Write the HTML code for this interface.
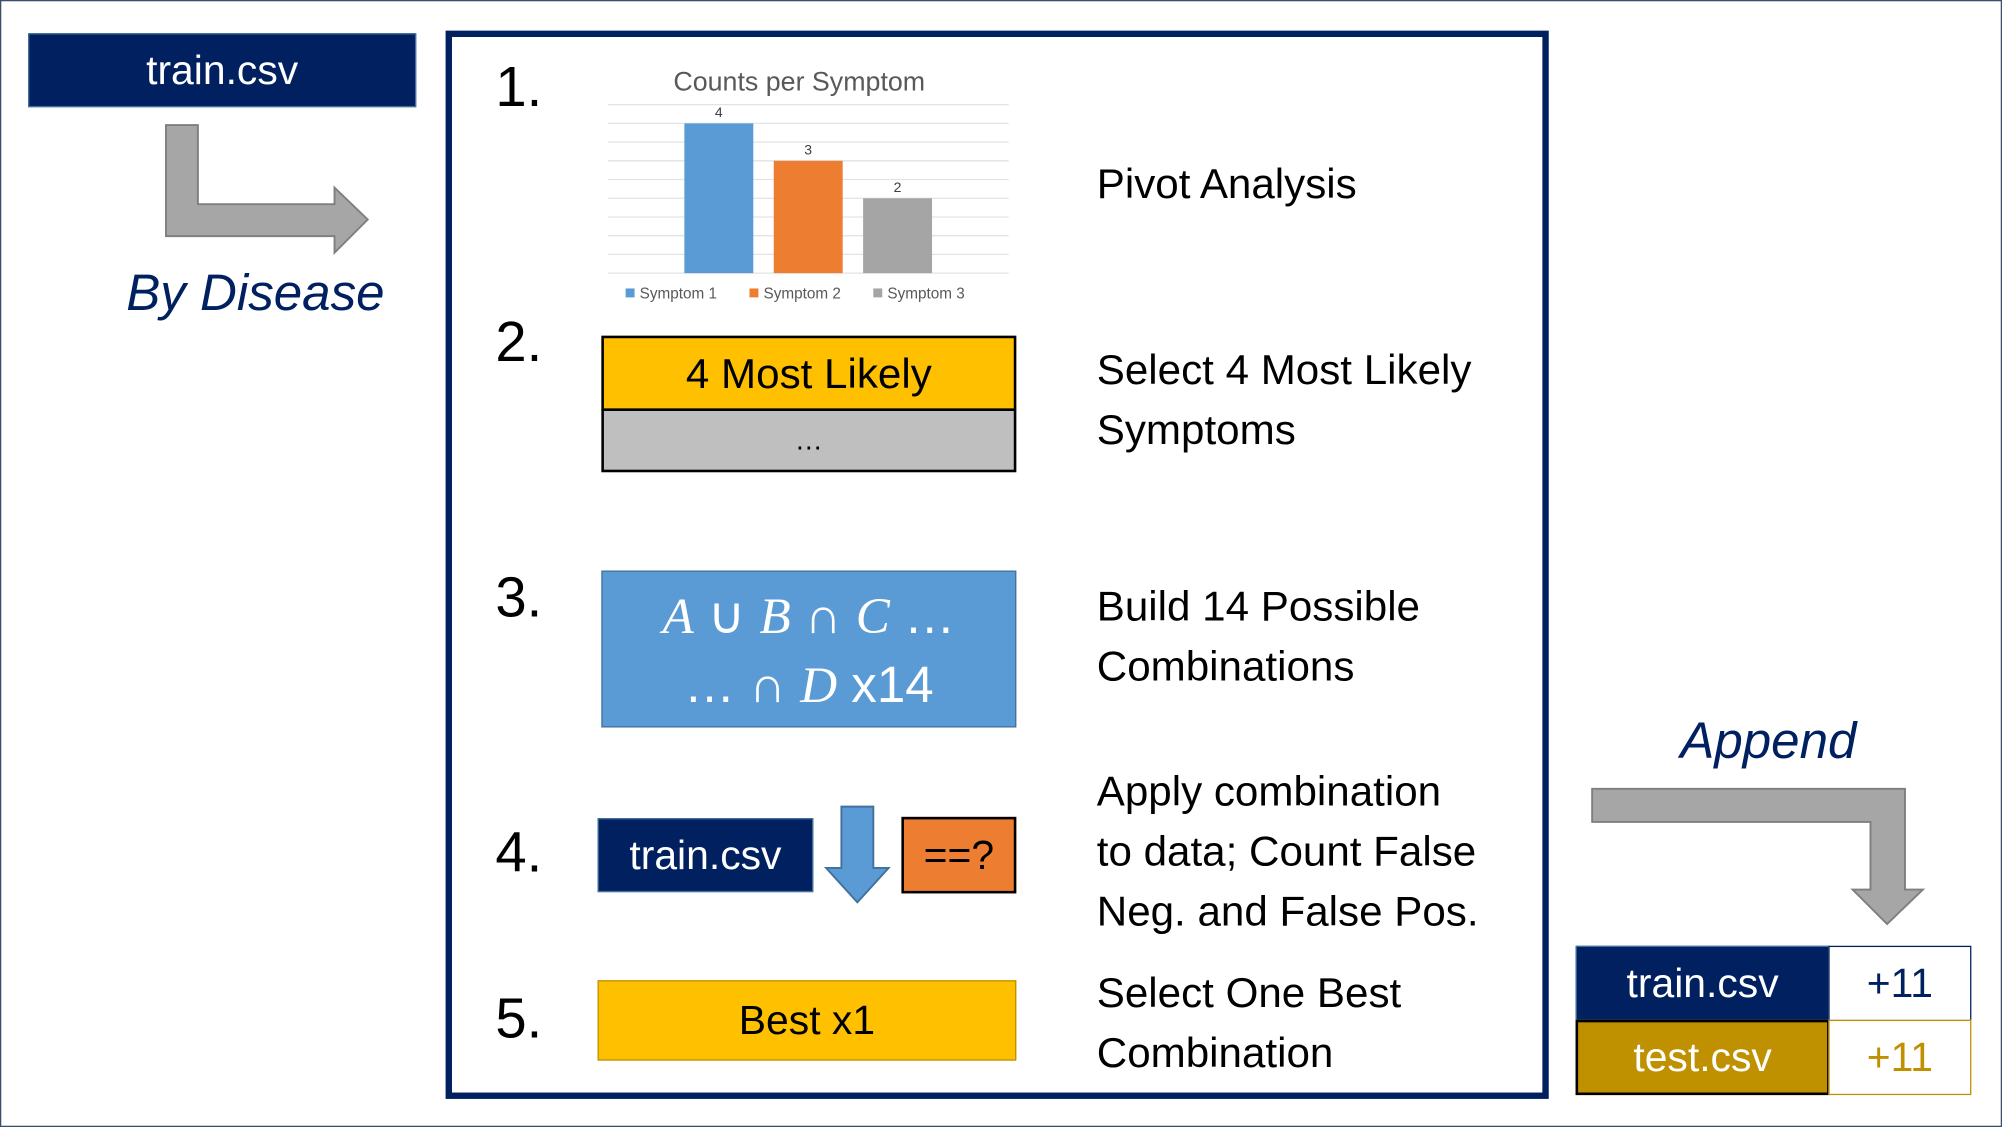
<!DOCTYPE html>
<html><head><meta charset="utf-8">
<style>
html,body{margin:0;padding:0;background:#fff;width:2002px;height:1127px;overflow:hidden}
#s{position:absolute;left:0;top:0;width:1568px;height:883px;transform:scale(1.27679,1.27633);transform-origin:0 0;font-family:"Liberation Sans",sans-serif}
.a{position:absolute;box-sizing:border-box}
.c{display:flex;align-items:center;justify-content:center}
.t{position:absolute;font-size:33px;color:#000;white-space:nowrap;line-height:47px}
.n{position:absolute;font-size:44px;color:#000;left:388px}
</style></head><body>
<div id="s">
<div class="a" style="left:0;top:0;width:1568px;height:883px;border:1px solid #3a5068"></div>
<div class="a c" style="left:22px;top:26px;width:304px;height:58px;background:#002060;border:1.5px solid #41719C;color:#fff;font-size:32px">train.csv</div>
<svg class="a" style="left:0;top:0" width="1568" height="883">
<path d="M130,98 H155 V160 H262 V147 L288,172 L262,198 V185 H130 Z" fill="#A6A6A6" stroke="#7f7f7f" stroke-width="1.5"/>
<path d="M1247,618 H1492 V697 H1506 L1478,724 L1451,697 H1465 V644 H1247 Z" fill="#A6A6A6" stroke="#7f7f7f" stroke-width="1.5"/>
<path d="M659,632 H684 V680 H696 L671.5,707 L647,680 H659 Z" fill="#5B9BD5" stroke="#41719C" stroke-width="1.5"/>
</svg>
<div class="a" style="left:60px;top:208px;width:280px;text-align:center;font-style:italic;font-size:40px;color:#002060">By Disease</div>
<div class="a" style="left:349px;top:24px;width:864px;height:837px;border:5px solid #002060"></div>
<div class="n" style="top:44px">1.</div>
<div class="n" style="top:244px">2.</div>
<div class="n" style="top:444px">3.</div>
<div class="n" style="top:644px">4.</div>
<div class="n" style="top:774px">5.</div>
<svg id="chart" class="a" style="left:470px;top:45px" width="330" height="200"></svg>
<div class="a c" style="left:471px;top:263px;width:325px;height:59px;background:#FFC000;border:2px solid #000;font-size:33px">4 Most Likely</div>
<div class="a c" style="left:471px;top:320px;width:325px;height:50px;background:#BFBFBF;border:2px solid #000;font-size:22px">…</div>
<div class="a" style="left:471px;top:447px;width:325px;height:123px;background:#5B9BD5;border:1.5px solid #41719C;color:#fff;text-align:center;font-size:40px;line-height:54px;padding-top:8px"><span style="font-family:'Liberation Serif',serif;font-style:italic">A</span> ∪ <span style="font-family:'Liberation Serif',serif;font-style:italic">B</span> ∩ <span style="font-family:'Liberation Serif',serif;font-style:italic">C</span> …<br>… ∩ <span style="font-family:'Liberation Serif',serif;font-style:italic">D</span> x14</div>
<div class="a c" style="left:468px;top:641px;width:169px;height:58px;background:#002060;border:1.5px solid #41719C;color:#fff;font-size:32px">train.csv</div>
<div class="a c" style="left:706px;top:640px;width:90px;height:60px;background:#ED7D31;border:2px solid #000;font-size:32px">==?</div>
<div class="a c" style="left:468px;top:768px;width:328px;height:63px;background:#FFC000;border:1.5px solid #BF9000;font-size:32px">Best x1</div>
<div class="t" style="left:859px;top:120px">Pivot Analysis</div>
<div class="t" style="left:859px;top:266px">Select 4 Most Likely<br>Symptoms</div>
<div class="t" style="left:859px;top:451px">Build 14 Possible<br>Combinations</div>
<div class="t" style="left:859px;top:596px">Apply combination<br>to data; Count False<br>Neg. and False Pos.</div>
<div class="t" style="left:859px;top:754px">Select One Best<br>Combination</div>
<div class="a" style="left:1285px;top:559px;width:200px;text-align:center;font-style:italic;font-size:40px;color:#002060">Append</div>
<div class="a c" style="left:1234px;top:741px;width:199px;height:59px;background:#002060;border:1.5px solid #41719C;color:#fff;font-size:32px">train.csv</div>
<div class="a c" style="left:1432px;top:741px;width:112px;height:59px;background:#fff;border:1.5px solid #002060;color:#002060;font-size:32px">+11</div>
<div class="a c" style="left:1234px;top:799px;width:199px;height:59px;background:#BF9000;border:2px solid #000;color:#fff;font-size:32px">test.csv</div>
<div class="a c" style="left:1432px;top:799px;width:112px;height:59px;background:#fff;border:1.5px solid #BF9000;color:#BF9000;font-size:32px">+11</div>
</div>
<script>
const categories=["Symptom 1","Symptom 2","Symptom 3"];
const values=[4,3,2];
const colors=["#5B9BD5","#ED7D31","#A5A5A5"];
const ns="http://www.w3.org/2000/svg";
const svg=document.getElementById('chart');
const x0=6,x1=320,base=169,top0=37,vmax=4.5;
function y(v){return base-(v/vmax)*(base-top0);}
function bx(i){return 66+i*70;}
function mk(tag,at){const e=document.createElementNS(ns,tag);for(const k in at)e.setAttribute(k,at[k]);svg.appendChild(e);return e;}
const title=mk('text',{x:156,y:26,'text-anchor':'middle','font-size':'21','fill':'#595959','font-family':'Liberation Sans,sans-serif'});
title.textContent='Counts per Symptom';


for(let g=0;g<=9;g++){const v=g*0.5;const l=mk('line',{x1:x0,x2:x1,y1:y(v),y2:y(v),stroke:'#e3e3e3','stroke-width':1});

}
values.forEach((v,i)=>{
const r=mk('rect',{x:bx(i),y:y(v),width:54,height:base-y(v),fill:colors[i]});


const t=mk('text',{x:bx(i)+27,y:y(v)-5,'text-anchor':'middle','font-size':'11','fill':'#404040','font-family':'Liberation Sans,sans-serif'});
t.textContent=v;


const s=mk('rect',{x:20+i*97,y:181,width:7,height:7,fill:colors[i]});


const lt=mk('text',{x:31+i*97,y:189,'font-size':'12','fill':'#595959','font-family':'Liberation Sans,sans-serif'});
lt.textContent=categories[i];


});
</script>
</body></html>
